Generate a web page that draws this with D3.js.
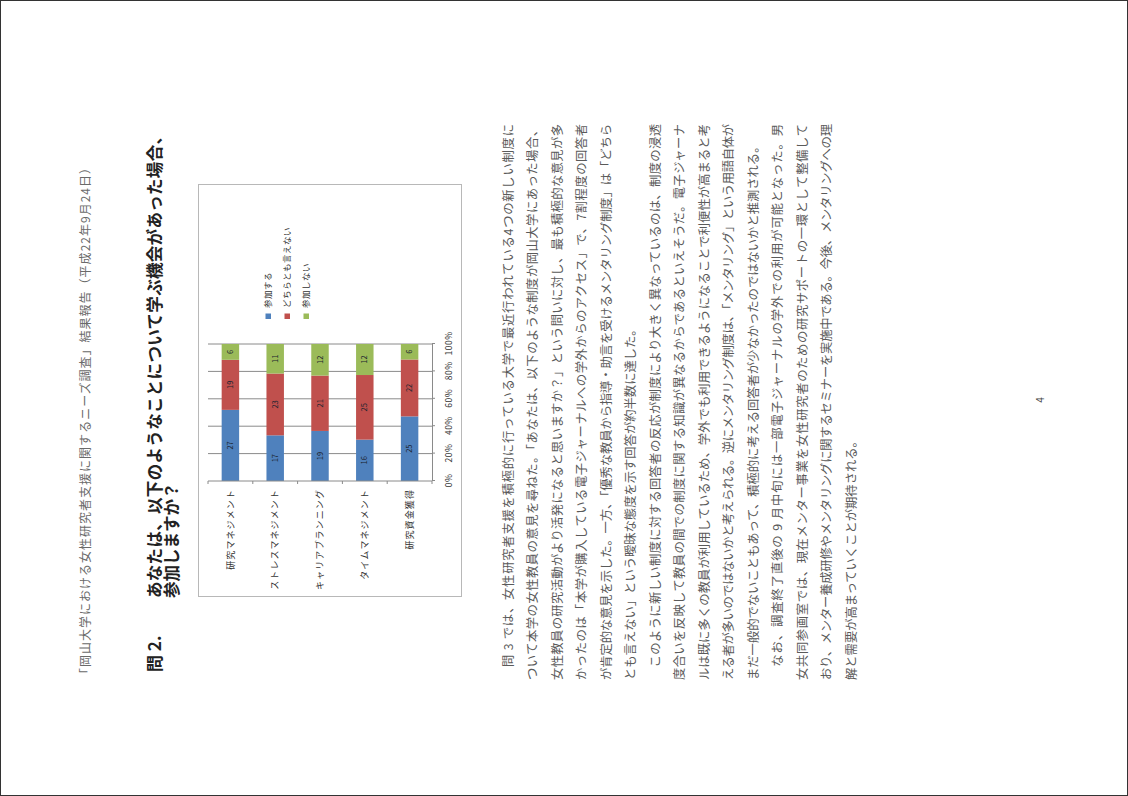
<!DOCTYPE html>
<html>
<head>
<meta charset="utf-8">
<script src="https://cdn.jsdelivr.net/npm/d3@7"></script>
<style>
  body { margin: 0; background: #fff; }
  svg { display: block; }
</style>
</head>
<body>
<script>
// Survey results: willingness to attend training sessions (respondent counts)
const categories = ["研究マネジメント", "ストレスマネジメント", "キャリアプランニング", "タイムマネジメント", "研究資金獲得"];
const seriesNames = ["参加する", "どちらとも言えない", "参加しない"];
const joinValues = [27, 17, 19, 16, 25];
const neutralValues = [19, 23, 21, 25, 22];
const declineValues = [6, 11, 12, 12, 6];
const tickValues = [0, 0.2, 0.4, 0.6, 0.8, 1];
const tickLabels = ["0%", "20%", "40%", "60%", "80%", "100%"];

const headerText = "「岡山大学における女性研究者支援に関するニーズ調査」結果報告（平成22年9月24日）";
const titleNumber = "問 2.";
const titleLines = ["あなたは、以下のようなことについて学ぶ機会があった場合、", "参加しますか？"];
const bodyLines = [
  "　問 3 では、女性研究者支援を積極的に行っている大学で最近行われている4つの新しい制度に",
  "ついて本学の女性教員の意見を尋ねた。「あなたは、以下のような制度が岡山大学にあった場合、",
  "女性教員の研究活動がより活発になると思いますか？」という問いに対し、最も積極的な意見が多",
  "かったのは「本学が購入している電子ジャーナルへの学外からのアクセス」で、7割程度の回答者",
  "が肯定的な意見を示した。一方、「優秀な教員から指導・助言を受けるメンタリング制度」は「どちら",
  "とも言えない」という曖昧な態度を示す回答が約半数に達した。",
  "　このように新しい制度に対する回答者の反応が制度により大きく異なっているのは、制度の浸透",
  "度合いを反映して教員の間での制度に関する知識が異なるからであるといえそうだ。電子ジャーナ",
  "ルは既に多くの教員が利用しているため、学外でも利用できるようになることで利便性が高まると考",
  "える者が多いのではないかと考えられる。逆にメンタリング制度は、「メンタリング」という用語自体が",
  "まだ一般的でないこともあって、積極的に考える回答者が少なかったのではないかと推測される。",
  "　なお、調査終了直後の 9 月中旬には一部電子ジャーナルの学外での利用が可能となった。男",
  "女共同参画室では、現在メンター事業を女性研究者のための研究サポートの一環として整備して",
  "おり、メンター養成研修やメンタリングに関するセミナーを実施中である。今後、メンタリングへの理",
  "解と需要が高まっていくことが期待される。"
];
const pageNumber = "4";

// Layout
const W = 1128, H = 796;
const FONT = "'Noto Sans CJK JP', 'Noto Sans', sans-serif";
const colors = ["#4F81BD", "#C0504D", "#9BBB59"];
const paragraphEnds = new Set([5, 10, 14]);

const svg = d3.select("body").append("svg")
  .attr("width", W).attr("height", H)
  .style("font-family", FONT);

svg.append("rect").attr("x", 0.5).attr("y", 0.5)
  .attr("width", W - 1).attr("height", H - 1)
  .attr("fill", "#fff").attr("stroke", "#333").attr("stroke-width", 1);

// The page is laid out in portrait and turned a quarter turn counter-clockwise
const page = svg.append("g").attr("transform", `translate(0,${H}) rotate(-90)`);

// Running header
page.append("text")
  .attr("x", 116).attr("y", 89.5)
  .attr("textLength", 518).attr("lengthAdjust", "spacing")
  .attr("font-size", 12).attr("fill", "#6a6a6a")
  .text(headerText);

// Question title
page.append("text")
  .attr("x", 124).attr("y", 161)
  .attr("font-size", 17).attr("font-weight", "bold").attr("fill", "#222")
  .text(titleNumber);
page.append("text")
  .attr("x", 198).attr("y", 161)
  .attr("textLength", 470).attr("lengthAdjust", "spacing")
  .attr("font-size", 16.5).attr("font-weight", "bold").attr("fill", "#222")
  .text(titleLines[0]);
page.append("text")
  .attr("x", 198).attr("y", 178)
  .attr("font-size", 16.5).attr("font-weight", "bold").attr("fill", "#222")
  .text(titleLines[1]);

// Chart frame
page.append("rect")
  .attr("x", 199.5).attr("y", 198.5)
  .attr("width", 412).attr("height", 263)
  .attr("fill", "#fff").attr("stroke", "#b8b8b8").attr("stroke-width", 1);

const table = categories.map((c, i) => ({
  category: c,
  [seriesNames[0]]: joinValues[i],
  [seriesNames[1]]: neutralValues[i],
  [seriesNames[2]]: declineValues[i]
}));

const stacked = d3.stack().keys(seriesNames).offset(d3.stackOffsetExpand)(table);

const x = d3.scaleLinear().domain([0, 1]).range([315, 452]);
const y = d3.scaleBand().domain(categories).range([208, 432]).paddingInner(0.61).paddingOuter(0.305);
const plotTop = 208, plotBottom = 432;

const chart = page.append("g");

// Vertical gridlines
chart.append("g").selectAll("line")
  .data(tickValues.slice(1))
  .join("line")
  .attr("x1", d => x(d)).attr("x2", d => x(d))
  .attr("y1", plotTop).attr("y2", plotBottom)
  .attr("stroke", "#8a8a8a").attr("stroke-width", 1);

// Stacked bars
const layers = chart.append("g").selectAll("g")
  .data(stacked)
  .join("g")
  .attr("fill", (d, i) => colors[i]);

layers.selectAll("rect")
  .data(d => d)
  .join("rect")
  .attr("x", d => x(d[0]))
  .attr("y", d => y(d.data.category))
  .attr("width", d => x(d[1]) - x(d[0]))
  .attr("height", y.bandwidth());

// Segment value labels
stacked.forEach((layer, si) => {
  chart.append("g").selectAll("text")
    .data(layer)
    .join("text")
    .attr("x", d => (x(d[0]) + x(d[1])) / 2)
    .attr("y", d => y(d.data.category) + y.bandwidth() / 2 + 2.6)
    .attr("text-anchor", "middle")
    .attr("font-size", 7.5).attr("fill", "#1c2430")
    .text(d => d.data[layer.key]);
});

// Value axis
const xAxis = chart.append("g")
  .attr("transform", `translate(0,${plotBottom})`)
  .call(d3.axisBottom(x).tickValues(tickValues)
    .tickFormat((d, i) => tickLabels[i]).tickSize(3).tickSizeOuter(0).tickPadding(11));
xAxis.select(".domain").attr("stroke", "#8a8a8a");
xAxis.selectAll(".tick line").attr("stroke", "#8a8a8a");
xAxis.selectAll(".tick text")
  .attr("font-family", FONT).attr("font-size", 8.5).attr("letter-spacing", 0.5).attr("fill", "#333");

// Category axis
chart.append("line")
  .attr("x1", x(0)).attr("x2", x(0))
  .attr("y1", plotTop).attr("y2", plotBottom)
  .attr("stroke", "#8a8a8a");
const step = y.step();
chart.append("g").selectAll("line")
  .data(d3.range(categories.length + 1))
  .join("line")
  .attr("x1", x(0) - 3).attr("x2", x(0))
  .attr("y1", i => plotTop + i * step).attr("y2", i => plotTop + i * step)
  .attr("stroke", "#8a8a8a");

chart.append("g").selectAll("text")
  .data(categories)
  .join("text")
  .attr("x", x(0) - 8)
  .attr("y", d => y(d) + y.bandwidth() / 2 + 3.2)
  .attr("text-anchor", "end")
  .attr("font-size", 9).attr("letter-spacing", 1.1).attr("fill", "#333")
  .text(d => d);

// Legend
const legend = chart.append("g").selectAll("g")
  .data(seriesNames)
  .join("g")
  .attr("transform", (d, i) => `translate(477,${268 + i * 19})`);
legend.append("rect")
  .attr("x", 0).attr("y", -2.5).attr("width", 5.5).attr("height", 5.5)
  .attr("fill", (d, i) => colors[i]);
legend.append("text")
  .attr("x", 11).attr("y", 3.2)
  .attr("font-size", 8.5).attr("letter-spacing", 0.5).attr("fill", "#333")
  .text(d => d);

// Body text
page.append("g").selectAll("text")
  .data(bodyLines)
  .join("text")
  .attr("x", 116)
  .attr("y", (d, i) => 512.5 + i * 24.5)
  .attr("font-size", 12.3).attr("fill", "#5a5a5a")
  .each(function(d, i) {
    if (!paragraphEnds.has(i)) {
      d3.select(this).attr("textLength", 556).attr("lengthAdjust", "spacing");
    }
  })
  .text(d => d);

// Page number
page.append("text")
  .attr("x", 396).attr("y", 1044)
  .attr("text-anchor", "middle")
  .attr("font-size", 10).attr("fill", "#444")
  .text(pageNumber);
</script>
</body>
</html>
